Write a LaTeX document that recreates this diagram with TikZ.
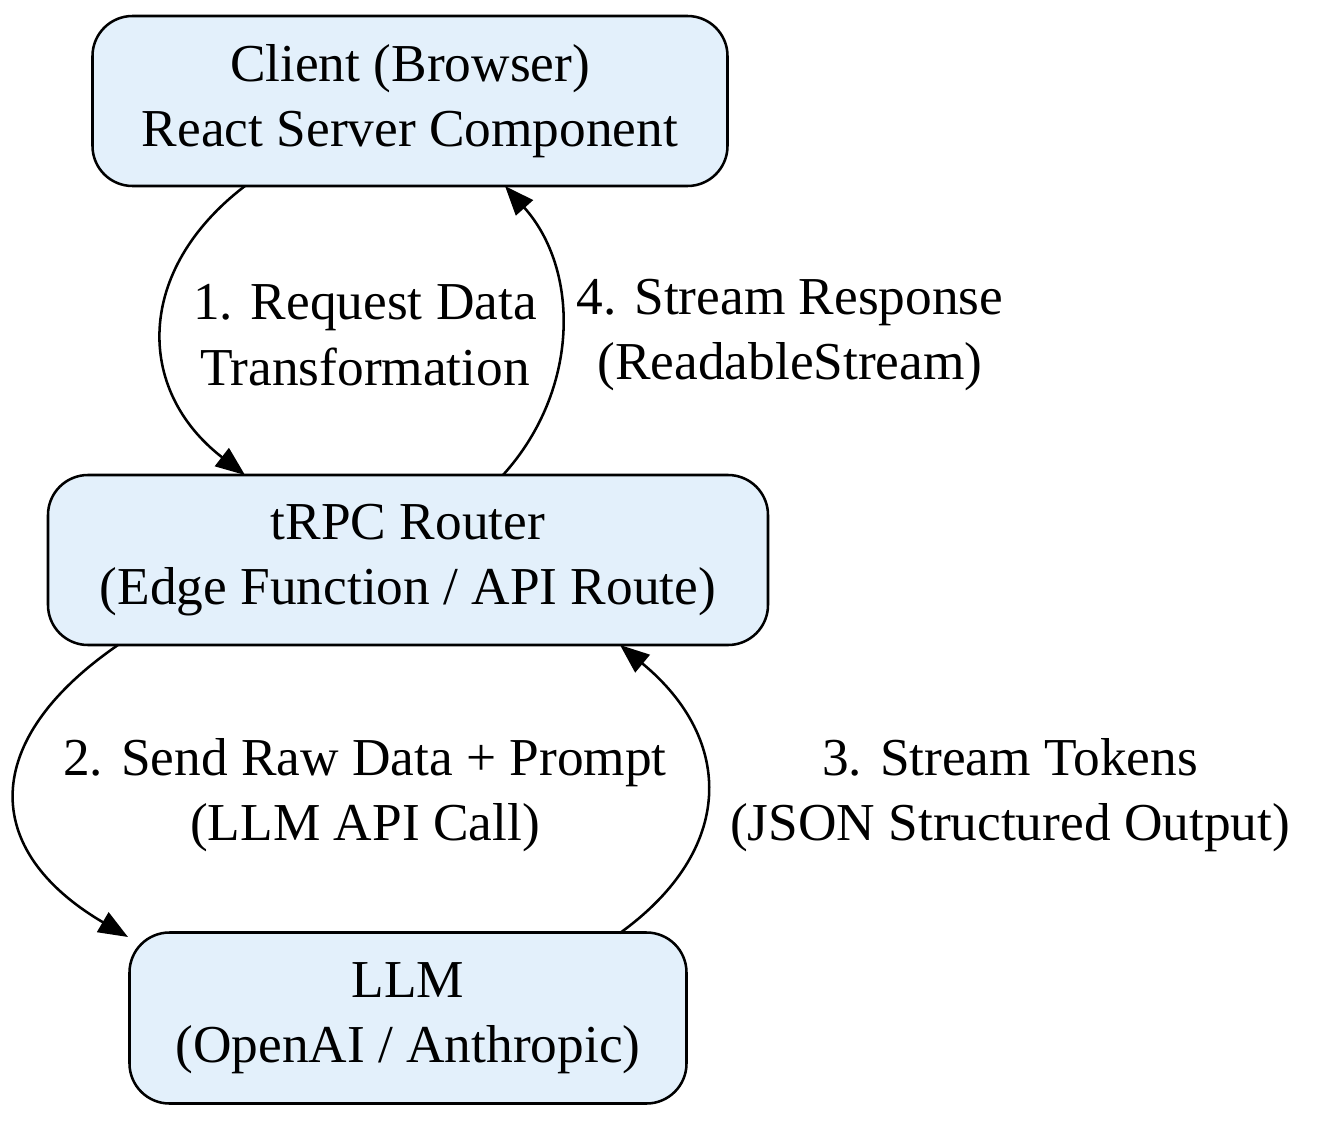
\documentclass[tikz,border=0pt]{standalone}
\usepackage{fontspec}
\setmainfont{Liberation Serif}
\usetikzlibrary{arrows.meta}
\begin{document}
\begin{tikzpicture}[x=0.75pt,y=-0.75pt,
  box/.style={draw=black,line width=1.9pt,fill=boxfill,rounded corners=30pt,align=center,font=\fontsize{40pt}{49pt}\selectfont,inner sep=0pt},
  lbl/.style={align=center,font=\fontsize{40pt}{49pt}\selectfont,inner sep=0pt},
  edge/.style={line width=1.9pt,-{Triangle[length=22pt,width=17pt]}}]
\definecolor{boxfill}{HTML}{E3F0FB}
\useasboundingbox (0,0) rectangle (1322,1121);
\node[box,minimum width=635*0.75pt,minimum height=170*0.75pt] (c) at (410,101) {Client (Browser)\\React Server Component};
\node[box,minimum width=720*0.75pt,minimum height=170*0.75pt] (t) at (408,560) {tRPC Router\\(Edge Function / API Route)};
\node[box,minimum width=557*0.75pt,minimum height=171*0.75pt] (l) at (408,1018) {LLM\\(OpenAI / Anthropic)};
\coordinate (c1) at (245,186); \coordinate (t1) at (245,475);
\coordinate (t4) at (503,475); \coordinate (c4) at (505,186);
\coordinate (t2) at (118,645); \coordinate (l2) at (128,937);
\coordinate (l3) at (620,933); \coordinate (t3) at (620,645);
\draw[edge] (c1) .. controls (135,270) and (135,390) .. (t1);
\draw[edge] (t4) .. controls (580,390) and (580,270) .. (c4);
\draw[edge] (t2) .. controls (-20,740) and (-20,850) .. (l2);
\draw[edge] (l3) .. controls (735,850) and (735,740) .. (t3);
\node[lbl] (e1) at (365,335) {1. Request Data\\Transformation};
\node[lbl] (e4) at (790,335) {4. Stream Response\\(ReadableStream)};
\node[lbl] (e2) at (365,795) {2. Send Raw Data + Prompt\\(LLM API Call)};
\node[lbl] (e3) at (1010,795) {3. Stream Tokens\\(JSON Structured Output)};
\end{tikzpicture}
\end{document}
